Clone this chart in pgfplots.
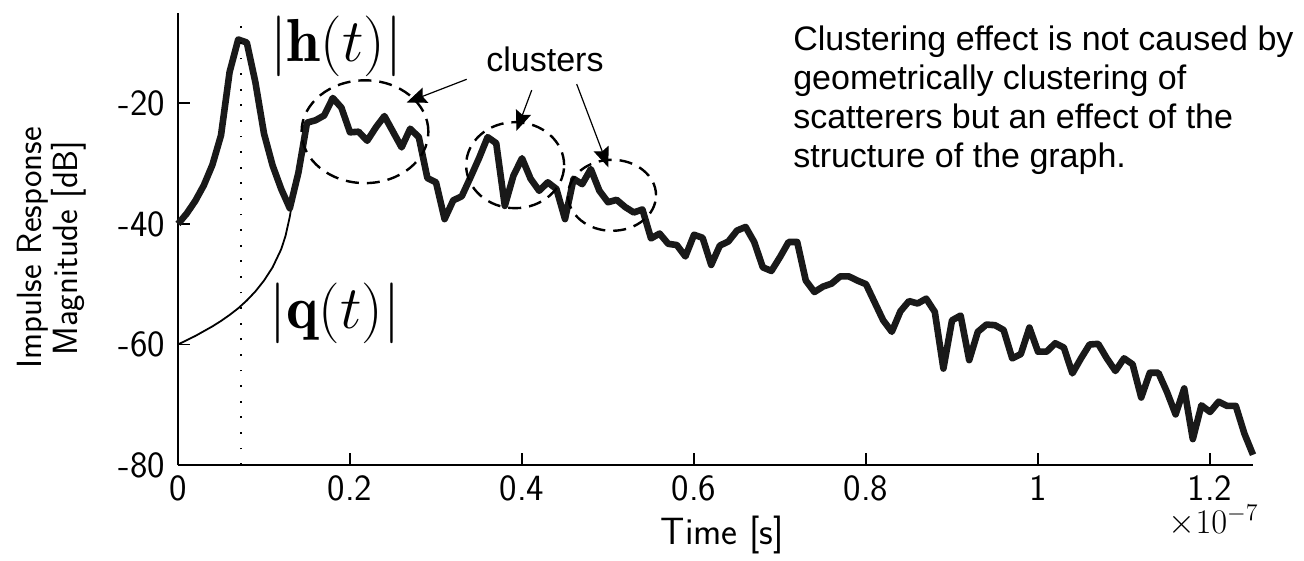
\documentclass[border=0pt]{standalone}
\usepackage{fontspec}
\usepackage{graphicx}
\usepackage{pgfplots}
\pgfplotsset{compat=1.18}
\usetikzlibrary{arrows.meta}
\newfontfamily\helv{Liberation Sans}
\begin{document}
\begin{tikzpicture}
\begin{axis}[name=ax, scale only axis, width=537.5pt, height=226pt,
  xmin=0, xmax=1.25, ymin=-80, ymax=-5,
  axis lines=left, axis line style={-, line width=0.9pt},
  tick align=inside, major tick length=6pt,
  tick style={line width=0.9pt, black},
  xtick={0,0.2,0.4,0.6,0.8,1,1.2}, xticklabels={0,0.2,0.4,0.6,0.8,1,1.2},
  ytick={-80,-60,-40,-20}, yticklabels={-80,-60,-40,-20},
  ticklabel style={font=\fontsize{18.5}{20}\selectfont\sffamily},
  xticklabel style={yshift=-2pt},
  yticklabel style={xshift=-3pt},
  clip=false]
\addplot[line width=0.9pt, black] coordinates {
(0,-60) (0.01,-59.3) (0.02,-58.6) (0.03,-57.8) (0.04,-57.0) (0.05,-56.1)
(0.06,-55.1) (0.07,-54.0) (0.08,-52.7) (0.09,-51.2) (0.10,-49.4) (0.11,-47.2)
(0.12,-44.2) (0.125,-42.0) (0.13,-38.8) (0.135,-34.5)};
\addplot[line width=3.3pt, black!90, line join=round] table {
t v
0.00 -40.0
0.01 -38.3
0.02 -36.2
0.03 -33.6
0.04 -30.2
0.05 -25.3
0.06 -14.8
0.07 -9.4
0.08 -9.9
0.09 -16.5
0.10 -25.0
0.11 -30.3
0.12 -34.2
0.13 -37.4
0.14 -31.5
0.15 -23.2
0.16 -22.8
0.17 -22.0
0.18 -19.1
0.19 -20.7
0.20 -24.8
0.21 -24.7
0.22 -26.2
0.23 -24.0
0.24 -22.1
0.25 -24.7
0.26 -27.3
0.27 -24.2
0.28 -25.6
0.29 -32.4
0.30 -33.1
0.31 -39.2
0.32 -36.1
0.33 -35.4
0.34 -32.3
0.35 -29.1
0.36 -25.6
0.37 -26.6
0.38 -37.0
0.39 -32.0
0.40 -29.1
0.41 -32.5
0.42 -34.5
0.43 -33.1
0.44 -34.2
0.45 -39.2
0.46 -32.5
0.47 -33.4
0.48 -30.9
0.49 -34.5
0.50 -36.4
0.51 -36.0
0.52 -37.2
0.53 -38.1
0.54 -37.6
0.55 -42.4
0.56 -41.6
0.57 -43.3
0.58 -43.5
0.59 -45.4
0.60 -41.8
0.61 -42.3
0.62 -46.8
0.63 -43.6
0.64 -42.9
0.65 -41.1
0.66 -40.5
0.67 -43.0
0.68 -47.2
0.69 -47.8
0.70 -45.5
0.71 -43.0
0.72 -43.0
0.73 -49.4
0.74 -51.3
0.75 -50.4
0.76 -49.9
0.77 -48.7
0.78 -48.7
0.79 -49.4
0.80 -50.0
0.81 -53.0
0.82 -56.0
0.83 -57.9
0.84 -54.5
0.85 -52.8
0.86 -53.2
0.87 -52.4
0.88 -54.6
0.89 -64.0
0.90 -56.0
0.91 -55.2
0.92 -62.6
0.93 -57.9
0.94 -56.7
0.95 -56.8
0.96 -57.6
0.97 -62.3
0.98 -61.6
0.99 -57.2
1.00 -61.2
1.01 -61.2
1.02 -59.8
1.03 -60.5
1.04 -64.8
1.05 -62.3
1.06 -60.0
1.07 -59.9
1.08 -62.3
1.09 -64.4
1.10 -62.3
1.11 -63.3
1.12 -68.8
1.13 -64.7
1.14 -64.7
1.15 -67.9
1.16 -71.6
1.17 -67.3
1.18 -75.7
1.19 -70.1
1.20 -71.2
1.21 -69.5
1.22 -70.2
1.23 -70.2
1.24 -74.8
1.25 -78.3
};
\draw[line width=0.9pt, dash pattern=on 0.9pt off 6.9pt] (axis cs:0.0729,-80) -- (axis cs:0.0729,-6);
\draw[line width=1.2pt, dash pattern=on 6.5pt off 4pt] (axis cs:0.2174,-24.7) ellipse [x radius=31.7pt, y radius=25.7pt];
\draw[line width=1.2pt, dash pattern=on 6.5pt off 4pt] (axis cs:0.392,-30.25) ellipse [x radius=24.5pt, y radius=21.5pt];
\draw[line width=1.2pt, dash pattern=on 6.5pt off 4pt] (axis cs:0.5047,-35.25) ellipse [x radius=22pt, y radius=17.75pt];
\draw[line width=0.6pt, -{Stealth[length=10pt,width=8pt,inset=1.5pt]}] (axis cs:0.3357,-16.0) -- (axis cs:0.2659,-19.85);
\draw[line width=0.6pt, -{Stealth[length=10pt,width=8pt,inset=1.5pt]}] (axis cs:0.4113,-17.8) -- (axis cs:0.3936,-24.55);
\draw[line width=0.6pt, -{Stealth[length=10pt,width=8pt,inset=1.5pt]}] (axis cs:0.4636,-16.8) -- (axis cs:0.5003,-30.6);
\node[anchor=base, inner sep=0pt, font=\fontsize{17}{19.5}\selectfont\helv] at (axis cs:0.4267,-14.77) {clusters};
\node[anchor=north west, inner sep=0pt, align=left, font=\fontsize{17}{19.5}\selectfont\helv] at (axis cs:0.715,-7) {Clustering effect is not caused by\\geometrically clustering of\\scatterers but an effect of the\\structure of the graph.};
\node[inner sep=0pt, font=\fontsize{24.88}{26}\selectfont] at (axis cs:0.1837,-10.6) {\scalebox{1.22}{$|\mathbf{h}(t)|$}};
\node[inner sep=0pt, font=\fontsize{24.88}{26}\selectfont] at (axis cs:0.1826,-54.75) {\scalebox{1.22}{$|\mathbf{q}(t)|$}};
\node[rotate=90, align=center, inner sep=0pt, font=\fontsize{17.5}{18}\selectfont\sffamily] at ([xshift=-63pt]axis cs:0,-44) {Impulse Response\\Magnitude [dB]};
\node[inner sep=0pt, font=\fontsize{19}{20}\selectfont\sffamily] at ([yshift=-35pt]axis cs:0.633,-80) {Time [s]};
\node[anchor=north east, inner sep=0pt, font=\fontsize{17}{18}\selectfont] at ([xshift=3pt,yshift=-20pt]rel axis cs:1,0) {$\times10^{-7}$};
\end{axis}
\pgfresetboundingbox
\path[use as bounding box] ([shift={(-89pt,-48pt)}]ax.south west) rectangle ++(652pt,280.5pt);
\end{tikzpicture}
\end{document}
